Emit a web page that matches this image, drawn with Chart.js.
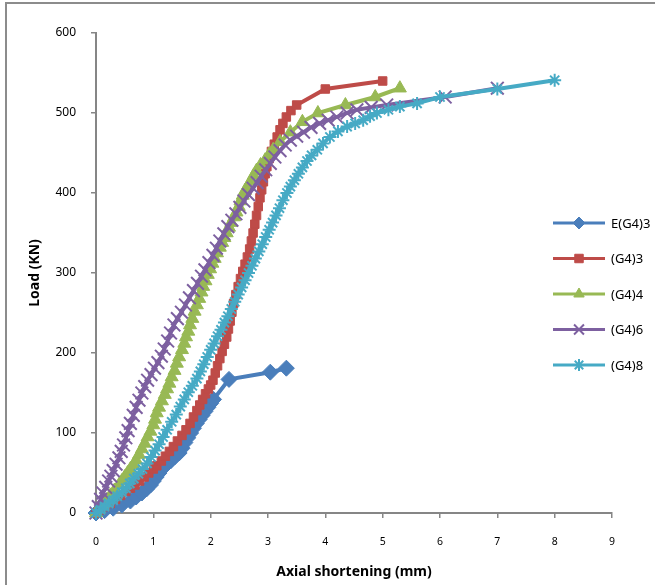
<!DOCTYPE html>
<html>
<head>
<meta charset="utf-8">
<script src="https://cdn.jsdelivr.net/npm/chart.js@4.4.0/dist/chart.umd.min.js"></script>
<style>
    html, body { margin: 0; padding: 0; background: #ffffff; overflow: hidden; }
    #frame { position: absolute; left: 5px; top: 2px; width: 700px; height: 700px; border: 2px solid #8c8c8c; box-sizing: border-box; }
    #wrap { position: absolute; left: 0; top: 0; width: 655px; height: 585px; }
</style>
</head>
<body>
<div id="frame"></div>
<div id="wrap"><canvas id="chart" width="655" height="585"></canvas></div>
<script>
// Load vs axial shortening

const xTicks = [0, 1, 2, 3, 4, 5, 6, 7, 8, 9];
const yTicks = [0, 100, 200, 300, 400, 500, 600];

const seriesNames = ['E(G4)3', '(G4)3', '(G4)4', '(G4)6', '(G4)8'];

// E(G4)3
const e3Short = [0, 0.15, 0.3, 0.45, 0.6, 0.7, 0.8, 0.88, 0.95, 1.0, 1.05, 1.1, 1.15, 1.22, 1.3, 1.37, 1.45, 1.5, 1.55, 1.6, 1.65, 1.7, 1.75, 1.8, 1.85, 1.9, 1.95, 2.0, 2.05, 2.32, 3.04, 3.32];
const e3Load = [0, 3, 6, 10, 15, 20, 25, 30, 35, 40, 45, 50, 55, 60, 65, 70, 75, 81, 88, 94, 100, 106, 112, 117, 122, 127, 132, 137, 142, 167, 176, 181];

// (G4)3
const g3Short = [0, 0.08, 0.16, 0.25, 0.34, 0.43, 0.52, 0.6, 0.68, 0.76, 0.84, 0.92, 1.0, 1.06, 1.14, 1.21, 1.28, 1.35, 1.42, 1.5, 1.57, 1.64, 1.7, 1.76, 1.81, 1.86, 1.91, 1.96, 2.0, 2.04, 2.08, 2.12, 2.16, 2.2, 2.24, 2.28, 2.31, 2.34, 2.37, 2.4, 2.44, 2.48, 2.52, 2.56, 2.6, 2.64, 2.68, 2.71, 2.74, 2.77, 2.8, 2.83, 2.86, 2.89, 2.92, 2.95, 2.98, 3.02, 3.06, 3.11, 3.16, 3.21, 3.26, 3.32, 3.4, 3.5, 4.0, 5.0];
const g3Load = [0, 4, 8, 12, 17, 22, 27, 31, 35, 40, 45, 50, 55, 59, 65, 71, 77, 83, 90, 97, 104, 112, 120, 128, 135, 142, 149, 155, 160, 166, 175, 184, 193, 202, 211, 220, 230, 240, 251, 262, 273, 283, 293, 302, 311, 320, 330, 340, 350, 361, 372, 383, 394, 404, 414, 424, 433, 443, 452, 461, 470, 479, 487, 495, 503, 510, 530, 540];

// (G4)4
const g4Short = [0, 0.05, 0.1, 0.18, 0.25, 0.32, 0.4, 0.45, 0.5, 0.55, 0.6, 0.65, 0.7, 0.75, 0.8, 0.85, 0.9, 0.95, 1.0, 1.03, 1.06, 1.1, 1.15, 1.2, 1.24, 1.28, 1.32, 1.37, 1.41, 1.45, 1.5, 1.54, 1.57, 1.61, 1.64, 1.68, 1.72, 1.76, 1.8, 1.84, 1.87, 1.91, 1.95, 1.99, 2.03, 2.07, 2.11, 2.16, 2.2, 2.24, 2.28, 2.32, 2.36, 2.41, 2.45, 2.49, 2.52, 2.56, 2.6, 2.65, 2.7, 2.75, 2.8, 2.87, 2.95, 3.02, 3.09, 3.21, 3.39, 3.6, 3.87, 4.35, 4.87, 5.3];
const g4Load = [0, 5, 10, 16, 22, 28, 35, 40, 45, 50, 55, 60, 66, 73, 80, 87, 95, 102, 110, 117, 125, 132, 140, 148, 155, 162, 170, 178, 187, 195, 204, 212, 220, 227, 235, 243, 252, 260, 268, 276, 283, 290, 298, 305, 312, 318, 325, 332, 338, 344, 350, 357, 363, 370, 376, 383, 390, 397, 403, 409, 415, 422, 428, 435, 441, 448, 454, 464, 476, 489, 500, 510, 520, 531];

// (G4)6
const g6Short = [0, 0.04, 0.08, 0.12, 0.17, 0.22, 0.26, 0.3, 0.35, 0.4, 0.44, 0.48, 0.52, 0.56, 0.6, 0.65, 0.7, 0.75, 0.8, 0.85, 0.9, 0.96, 1.02, 1.08, 1.14, 1.19, 1.25, 1.3, 1.36, 1.42, 1.49, 1.56, 1.63, 1.7, 1.77, 1.84, 1.9, 1.97, 2.04, 2.1, 2.16, 2.23, 2.3, 2.37, 2.44, 2.51, 2.58, 2.66, 2.74, 2.81, 2.88, 2.96, 3.04, 3.12, 3.21, 3.3, 3.39, 3.5, 3.62, 3.75, 3.9, 4.05, 4.2, 4.38, 4.55, 4.8, 5.07, 6.09, 7.0];
const g6Load = [0, 8, 17, 25, 32, 40, 46, 53, 61, 69, 77, 85, 94, 103, 112, 122, 132, 141, 150, 158, 166, 173, 181, 188, 196, 205, 215, 225, 235, 243, 251, 260, 269, 278, 287, 296, 304, 313, 322, 331, 340, 349, 358, 366, 374, 382, 390, 398, 406, 413, 421, 429, 437, 445, 453, 460, 466, 471, 476, 482, 487, 491, 495, 500, 504, 507, 510, 520, 531];

// (G4)8
const g8Short = [0, 0.08, 0.15, 0.22, 0.3, 0.37, 0.45, 0.52, 0.59, 0.66, 0.74, 0.81, 0.89, 0.96, 1.03, 1.1, 1.17, 1.24, 1.32, 1.4, 1.47, 1.54, 1.61, 1.68, 1.76, 1.82, 1.88, 1.94, 2.0, 2.06, 2.12, 2.18, 2.24, 2.3, 2.36, 2.42, 2.48, 2.54, 2.6, 2.66, 2.72, 2.78, 2.84, 2.9, 2.96, 3.02, 3.08, 3.14, 3.2, 3.26, 3.33, 3.39, 3.46, 3.53, 3.6, 3.68, 3.76, 3.86, 3.96, 4.08, 4.22, 4.38, 4.52, 4.66, 4.78, 4.9, 5.1, 5.3, 5.6, 6.0, 7.0, 8.0];
const g8Load = [0, 4, 8, 12, 16, 21, 26, 31, 37, 43, 49, 55, 62, 70, 78, 86, 95, 104, 114, 123, 133, 142, 151, 159, 168, 177, 186, 195, 204, 212, 221, 229, 238, 246, 255, 264, 273, 282, 291, 300, 309, 318, 327, 336, 345, 354, 363, 372, 381, 391, 400, 408, 416, 424, 432, 440, 447, 454, 462, 470, 477, 483, 487, 491, 496, 500, 504, 508, 512, 520, 530, 541];

const COLORS = ['#4a7ebb', '#be4b48', '#98b954', '#7d60a0', '#46aac5'];
const STYLES = ['rectRot', 'rect', 'triangle', 'crossRot', 'star'];
const RADII = [8, 6, 7.5, 9, 6.5];
const LEGEND_RADII = [6, 6, 6, 7, 6];

const AXIS = '#868686';
const FONT = "'Noto Sans', 'Liberation Sans', sans-serif";

function pairs(xs, ys) {
    return xs.map((x, i) => ({ x, y: ys[i] }));
}

const rawSeries = [
    pairs(e3Short, e3Load),
    pairs(g3Short, g3Load),
    pairs(g4Short, g4Load),
    pairs(g6Short, g6Load),
    pairs(g8Short, g8Load)
];

const datasets = rawSeries.map((data, i) => {
    const isLineMarker = STYLES[i] === 'crossRot' || STYLES[i] === 'star';
    return {
        label: seriesNames[i],
        data,
        showLine: true,
        borderColor: COLORS[i],
        backgroundColor: COLORS[i],
        borderWidth: 4,
        pointStyle: STYLES[i],
        pointRadius: RADII[i],
        pointBackgroundColor: COLORS[i],
        pointBorderColor: COLORS[i],
        pointBorderWidth: isLineMarker ? 2 : 1,
        tension: 0,
        clip: false,
        order: seriesNames.length - i
    };
});

// legend drawn by hand so it can sit over the right part of the plot like the original
const sideLegend = {
    id: 'sideLegend',
    afterDraw(chart) {
        const ctx = chart.ctx;
        const x0 = 553, x1 = 605, top = 223, gap = 35.5;
        ctx.save();
        chart.data.datasets.forEach((ds, i) => {
            const y = top + i * gap;
            ctx.strokeStyle = ds.borderColor;
            ctx.lineWidth = 3;
            ctx.beginPath();
            ctx.moveTo(x0, y);
            ctx.lineTo(x1, y);
            ctx.stroke();
            ctx.fillStyle = ds.borderColor;
            ctx.strokeStyle = ds.borderColor;
            ctx.lineWidth = ds.pointBorderWidth;
            Chart.helpers.drawPoint(ctx, { pointStyle: ds.pointStyle, radius: LEGEND_RADII[i], borderWidth: ds.pointBorderWidth, rotation: 0 }, (x0 + x1) / 2, y);
            ctx.fillStyle = '#000000';
            ctx.font = `13px ${FONT}`;
            ctx.textBaseline = 'middle';
            ctx.textAlign = 'left';
            ctx.fillText(ds.label, 611, y + 1);
        });
        ctx.restore();
    }
};

new Chart(document.getElementById('chart'), {
    type: 'scatter',
    data: { datasets },
    options: {
        responsive: false,
        animation: false,
        layout: { padding: { left: 0, right: 43, top: 33, bottom: 0 } },
        plugins: { legend: { display: false }, tooltip: { enabled: false } },
        scales: {
            x: {
                type: 'linear',
                min: 0,
                max: 9,
                afterBuildTicks: s => { s.ticks = xTicks.map(v => ({ value: v })); },
                afterFit: s => { s.height = 72; },
                ticks: { color: '#000000', font: { family: FONT, size: 10.5 }, padding: 18, maxRotation: 0 },
                grid: { drawOnChartArea: false, drawTicks: true, tickLength: 5, color: AXIS, lineWidth: 1.5 },
                border: { color: AXIS, width: 2 },
                title: { display: true, text: 'Axial shortening (mm)', color: '#000000', font: { family: FONT, size: 14, weight: 'bold' }, padding: { top: 0, bottom: 5 } }
            },
            y: {
                type: 'linear',
                min: 0,
                max: 600,
                afterBuildTicks: s => { s.ticks = yTicks.map(v => ({ value: v })); },
                afterFit: s => { s.width = 96; },
                ticks: { color: '#000000', font: { family: FONT, size: 12 }, padding: 15 },
                grid: { drawOnChartArea: false, drawTicks: true, tickLength: 5, color: AXIS, lineWidth: 1.5 },
                border: { color: AXIS, width: 2 },
                title: { display: true, text: 'Load (KN)', color: '#000000', font: { family: FONT, size: 14, weight: 'bold' }, padding: { top: 27, bottom: 0 } }
            }
        }
    },
    plugins: [sideLegend]
});
</script>
</body>
</html>
